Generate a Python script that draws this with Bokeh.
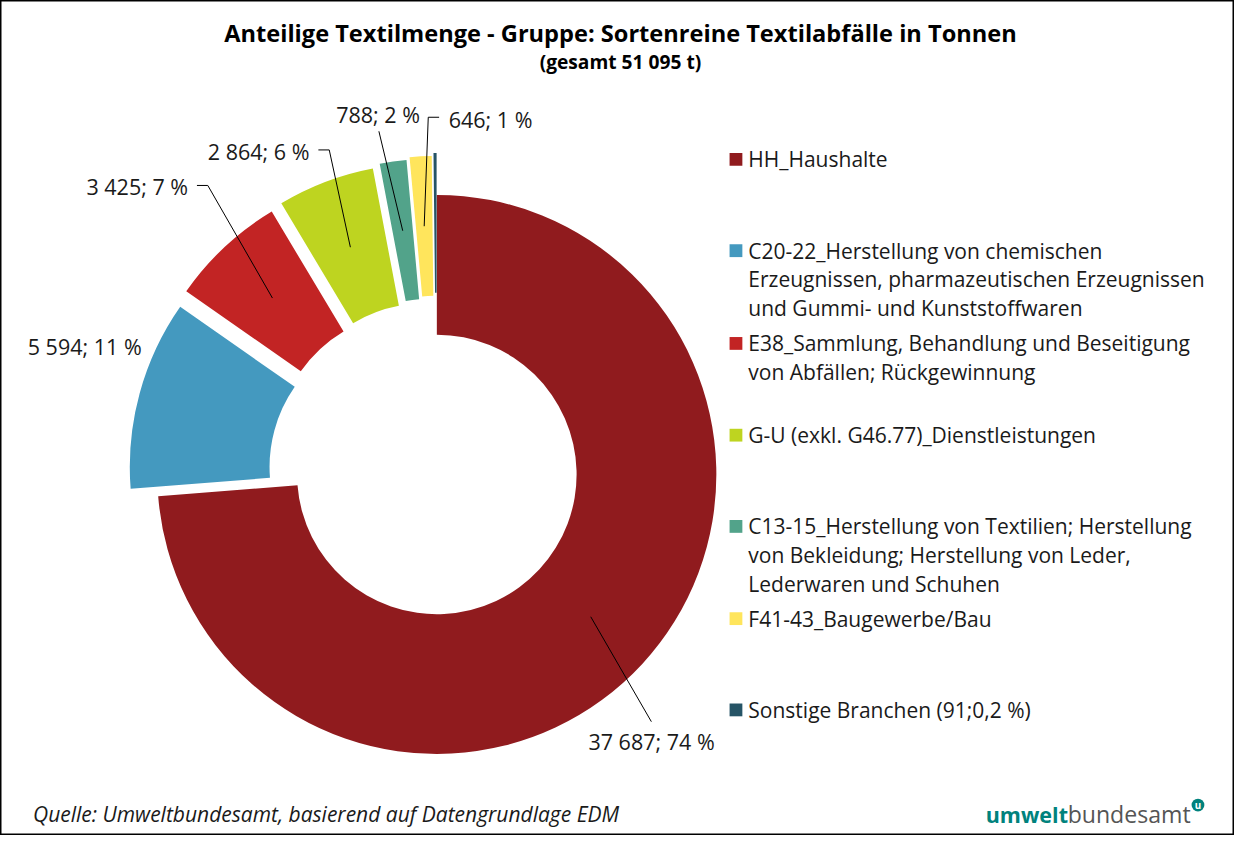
import math
from bokeh.plotting import figure
from bokeh.models import Range1d, ColumnDataSource
from bokeh.core.properties import value
from bokeh.embed import file_html
from bokeh.resources import INLINE

# ---------------- data ----------------
title = "Anteilige Textilmenge - Gruppe: Sortenreine Textilabfälle in Tonnen"
subtitle = "(gesamt 51 095 t)"
categories = [
    "HH_Haushalte",
    "C20-22_Herstellung von chemischen\nErzeugnissen, pharmazeutischen Erzeugnissen\nund Gummi- und Kunststoffwaren",
    "E38_Sammlung, Behandlung und Beseitigung\nvon Abfällen; Rückgewinnung",
    "G-U (exkl. G46.77)_Dienstleistungen",
    "C13-15_Herstellung von Textilien; Herstellung\nvon Bekleidung; Herstellung von Leder,\nLederwaren und Schuhen",
    "F41-43_Baugewerbe/Bau",
    "Sonstige Branchen (91;0,2 %)",
]
values = [37687, 5594, 3425, 2864, 788, 646, 91]
show_label = [True, True, True, True, True, True, False]
source_note = "Quelle: Umweltbundesamt, basierend auf Datengrundlage EDM"

# ---------------- style ----------------
colors = ["#901b1e", "#4499bf", "#c22424", "#bed420", "#52a38a", "#ffe55c", "#265466"]
explode = [0, 29, 32, 34, 37, 39.5, 42.5]          # px offset of each slice (reference px)
FONT = "Open Sans"
W, H = 1234, 835
SX, SY = W / 1250, H / 851
S = (SX + SY) / 2


def X(rx):
    return rx * SX


def Y(ry):
    return H - ry * SY


def fs(px):
    return f"{px * S:.1f}px"


CX, CY = X(442), Y(483)
R_OUT, R_IN = 284 * S, 142 * S

# label anchor (reference px), alignment, leader-line start points (reference px)
label_pos = [
    (659.5, 755, "center", [(659.3, 735)]),
    (143, 353, "right", []),
    (190, 190, "right", [(199, 188.5), (210, 188.5)]),
    (313, 154, "right", [(322, 152.3), (333, 152.3)]),
    (382.5, 116, "center", [(383.3, 133.3)]),
    (454, 121.5, "left", [(444.3, 119), (433.3, 119)]),
    (0, 0, "left", []),
]
legend_y = [162, 255, 349.5, 443, 536, 630, 723]
LEG_X, LEG_TX, LEG_LH, LEG_SQ = 745, 757.5, 29.3, 13

p = figure(width=W, height=H, x_range=Range1d(0, W), y_range=Range1d(0, H),
           x_axis_type=None, y_axis_type=None, toolbar_location=None,
           output_backend="svg", min_border=0)
p.outline_line_color = "black"
p.outline_line_width = 2
p.background_fill_color = "white"
p.border_fill_color = "white"

# ---------------- donut ----------------
total = sum(values)
starts, ends, xs, ys, mids = [], [], [], [], []
cum = 0
for v, e in zip(values, explode):
    a0 = 90 - cum * 360 / total
    cum += v
    a1 = 90 - cum * 360 / total
    mid = math.radians((a0 + a1) / 2)
    starts.append(math.radians(a1))
    ends.append(math.radians(a0))
    xs.append(CX + e * S * math.cos(mid))
    ys.append(CY + e * S * math.sin(mid))
    mids.append(mid)

src = ColumnDataSource(dict(x=xs, y=ys, s=starts, e=ends, c=colors))
p.annular_wedge(x="x", y="y", inner_radius=R_IN, outer_radius=R_OUT,
                start_angle="s", end_angle="e", fill_color="c",
                line_color=None, source=src)

# ---------------- data labels + leaders ----------------
R_MID = (R_IN + R_OUT) / 2
for i, v in enumerate(values):
    if not show_label[i]:
        continue
    lx, ly, al, pts = label_pos[i]
    txt = f"{v:,}".replace(",", " ") + f"; {round(100 * v / total)} %"
    p.text(x=[X(lx)], y=[Y(ly)], text=[txt], text_font=value(FONT),
           text_font_size=fs(21.8), text_align=al, text_baseline="middle",
           text_color="#1a1a1a")
    if pts:
        ex = xs[i] + R_MID * math.cos(mids[i])
        ey = ys[i] + R_MID * math.sin(mids[i])
        lxs = [X(a) for a, b in pts] + [ex]
        lys = [Y(b) for a, b in pts] + [ey]
        p.line(lxs, lys, line_color="black", line_width=1)

# ---------------- legend ----------------
for i, cat in enumerate(categories):
    y0 = legend_y[i]
    p.rect(x=[X(LEG_X)], y=[Y(y0)], width=LEG_SQ * S, height=LEG_SQ * S,
           fill_color=colors[i], line_color=None)
    for j, line in enumerate(cat.split("\n")):
        p.text(x=[X(LEG_TX)], y=[Y(y0 + j * LEG_LH)], text=[line],
               text_font=value(FONT), text_font_size=fs(21.3),
               text_align="left", text_baseline="middle", text_color="#1a1a1a")

# ---------------- titles ----------------
p.text(x=[X(628)], y=[Y(33)], text=[title], text_font=value(FONT),
       text_font_size=fs(24), text_font_style="bold", text_align="center",
       text_baseline="middle", text_color="black")
p.text(x=[X(628)], y=[Y(62)], text=[subtitle], text_font=value(FONT),
       text_font_size=fs(19.5), text_font_style="bold", text_align="center",
       text_baseline="middle", text_color="black")

# ---------------- footer ----------------
p.text(x=[X(33)], y=[Y(829)], text=[source_note], text_font=value(FONT),
       text_font_size=fs(21.3), text_font_style="italic", text_align="left",
       text_baseline="middle", text_color="#1a1a1a")
p.text(x=[X(998)], y=[Y(830)], text=["umwelt"], text_font=value(FONT),
       text_font_size=fs(21.8), text_font_style="bold", text_align="left",
       text_baseline="middle", text_color="#00827d")
p.text(x=[X(1081)], y=[Y(829.5)], text=["bundesamt"], text_font=value(FONT),
       text_font_size=fs(23.5), text_align="left",
       text_baseline="middle", text_color="#555555")
p.circle(x=[X(1213)], y=[Y(820)], radius=6.5 * S, fill_color="#00827d", line_color=None)
p.text(x=[X(1213)], y=[Y(820.5)], text=["u"], text_font=value(FONT),
       text_font_size=fs(10), text_font_style="bold", text_align="center",
       text_baseline="middle", text_color="white")

open("out.html", "w").write(file_html(p, INLINE))
